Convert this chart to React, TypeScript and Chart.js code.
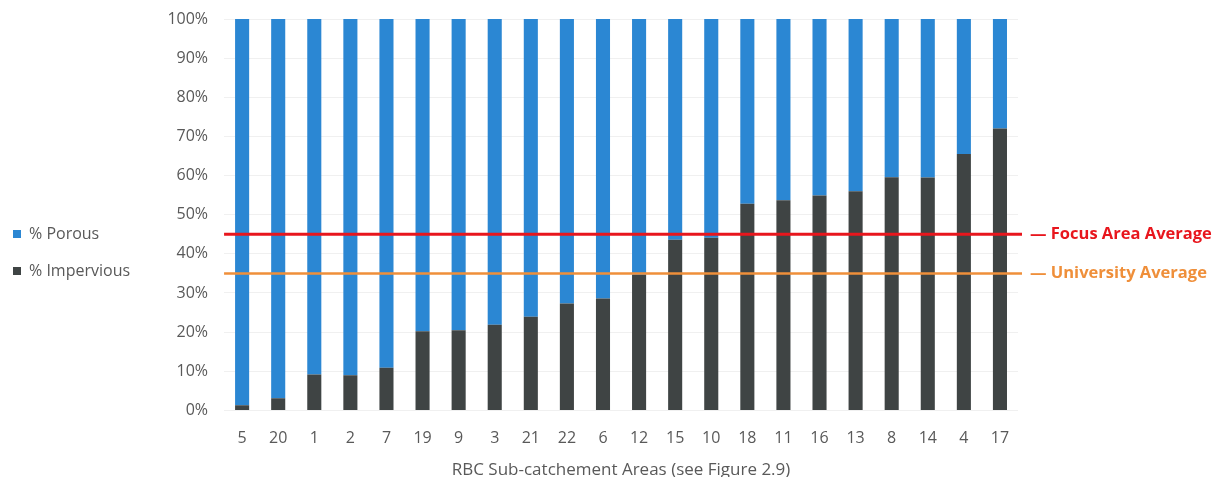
import React, { useEffect, useRef } from "react";
import { Chart, registerables } from "chart.js";

Chart.register(...registerables);

const categories = ["5", "20", "1", "2", "7", "19", "9", "3", "21", "22", "6", "12", "15", "10", "18", "11", "16", "13", "8", "14", "4", "17"];
const impervious = [1.3, 3.1, 9.2, 9.0, 10.9, 20.2, 20.5, 21.9, 23.9, 27.3, 28.6, 34.6, 43.6, 44.1, 52.8, 53.7, 54.9, 56.0, 59.6, 59.5, 65.5, 72.0];
const porous = impervious.map((v) => Math.round((100 - v) * 10) / 10);
const yTicks = [0, 10, 20, 30, 40, 50, 60, 70, 80, 90, 100];
const refLabels = ["— Focus Area Average", "— University Average"];
const refValues = [45, 35];
const refColors = ["#E8161D", "#EF8F3A"];

const FONT = "'Open Sans', 'Noto Sans', sans-serif";

const refLinesPlugin = {
  id: "refLines",
  afterDatasetsDraw(chart: any) {
    const { ctx, chartArea, scales } = chart;
    const y = scales.y;
    ctx.save();
    refValues.forEach((v, i) => {
      const py = y.getPixelForValue(v);
      ctx.strokeStyle = refColors[i];
      ctx.lineWidth = i === 0 ? 3 : 2.5;
      ctx.beginPath();
      ctx.moveTo(chartArea.left, py);
      ctx.lineTo(chartArea.right + 4, py);
      ctx.stroke();
      ctx.fillStyle = refColors[i];
      ctx.font = `bold 16.5px ${FONT}`;
      ctx.textBaseline = "middle";
      ctx.textAlign = "left";
      ctx.fillText(refLabels[i], chartArea.right + 12, py);
    });
    ctx.restore();
  },
};

export default function App() {
  const ref = useRef<HTMLCanvasElement | null>(null);
  useEffect(() => {
    if (!ref.current) return;
    const chart = new Chart(ref.current, {
      type: "bar",
      data: {
        labels: categories,
        datasets: [
          { label: "% Impervious", data: impervious, backgroundColor: "#3F4444", categoryPercentage: 0.39, barPercentage: 1 },
          { label: "% Porous", data: porous, backgroundColor: "#2B87D3", categoryPercentage: 0.39, barPercentage: 1 },
        ],
      },
      options: {
        animation: false,
        responsive: true,
        maintainAspectRatio: false,
        layout: { padding: { left: -16, right: 196, top: 11, bottom: 0 } },
        plugins: {
          legend: {
            position: "left",
            reverse: true,
            title: { display: true, text: "", padding: 0, font: { size: 7.5 } },
            labels: {
              boxWidth: 8,
              boxHeight: 8,
              padding: 21,
              color: "#595959",
              font: { family: FONT, size: 16 },
            },
          },
          tooltip: { enabled: false },
        },
        scales: {
          x: {
            stacked: true,
            grid: { display: false, drawTicks: false },
            border: { display: false },
            ticks: { color: "#595959", font: { family: FONT, size: 16 }, padding: 18 },
            title: {
              display: true,
              text: "RBC Sub-catchement Areas (see Figure 2.9)",
              color: "#595959",
              font: { family: FONT, size: 17 },
              padding: { top: -6, bottom: -3 },
            },
          },
          y: {
            stacked: true,
            min: 0,
            max: 100,
            afterFit: (scale: any) => {
              scale.width = 84;
              scale.paddingTop = 0;
              scale.paddingBottom = 0;
            },
            afterBuildTicks: (scale: any) => {
              scale.ticks = yTicks.map((v) => ({ value: v }));
            },
            grid: { color: "#F0F0F0", drawTicks: false },
            border: { display: false },
            ticks: {
              color: "#595959",
              font: { family: FONT, size: 16 },
              padding: 16,
              callback: (v: any) => v + "%",
            },
          },
        },
      },
      plugins: [refLinesPlugin],
    });
    return () => chart.destroy();
  }, []);
  return (
    <div style={{ width: "1206px", height: "469px" }}>
      <canvas ref={ref} />
    </div>
  );
}
